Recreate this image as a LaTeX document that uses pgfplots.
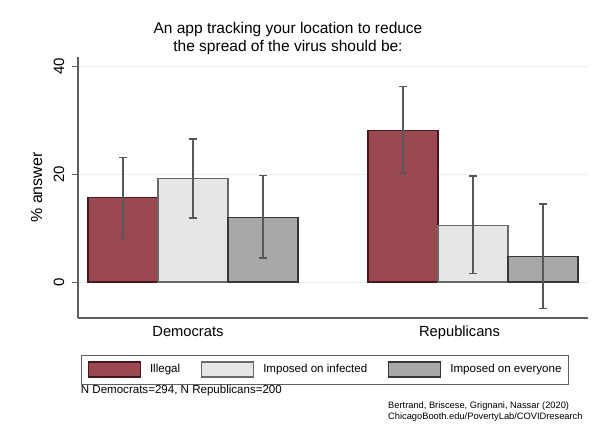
\documentclass[border=0pt]{standalone}
\usepackage{fontspec}
\setmainfont{Liberation Sans}
\usepackage{pgfplots}
\pgfplotsset{compat=1.18}

\definecolor{illegal}{RGB}{155,73,80}
\definecolor{illegaledge}{RGB}{70,25,30}
\definecolor{infected}{RGB}{230,230,230}
\definecolor{infectededge}{RGB}{105,105,105}
\definecolor{everyone}{RGB}{168,168,168}
\definecolor{everyoneedge}{RGB}{55,55,55}
\definecolor{errgray}{RGB}{88,88,88}
\definecolor{axgray}{RGB}{95,95,95}
\definecolor{gridc}{RGB}{232,240,242}

\pgfplotsset{
    errbars/.style={
        error bars/y dir=both,
        error bars/y explicit,
        error bars/error bar style={color=errgray, line width=1.6pt},
        error bars/error mark options={rotate=90, mark size=4pt, color=errgray, line width=1.6pt},
    },
}

\begin{document}
\begin{tikzpicture}[x=1pt,y=1pt]
\useasboundingbox (0,0) rectangle (604,440);

% title
\node[anchor=base, font=\fontsize{15.5}{18}\selectfont] at (288,406.7) {An app tracking your location to reduce};
\node[anchor=base, font=\fontsize{15.5}{18}\selectfont] at (288,388.9) {the spread of the virus should be:};

\begin{axis}[
    at={(78pt,122pt)}, anchor=south west,
    scale only axis, width=510pt, height=261pt,
    ybar, bar width=0.25,
    xmin=-0.4107, xmax=1.4107,
    ymin=-6.67, ymax=41.7,
    axis lines=left,
    axis line style={-, color=axgray, line width=1.1pt},
    xtick={-0.018,0.952},
    xticklabels={Democrats,Republicans},
    xtick style={draw=none},
    xticklabel style={font=\fontsize{14.7}{17}\selectfont, anchor=base, yshift=-12pt},
    ytick={0,20,40},
    ytick style={color=axgray, line width=1pt},
    tick align=outside,
    major tick length=6pt,
    yticklabel style={font=\fontsize{15}{18}\selectfont, rotate=90, anchor=south, inner sep=7.5pt},
    /pgf/number format/assume math mode=true,
    ylabel={\% answer},
    ylabel style={font=\fontsize{16}{19}\selectfont, at={(axis description cs:-0.081,0.5)}, anchor=center},
    ymajorgrids=true,
    grid style={color=gridc, line width=1pt},
    legend image code/.code={\draw[#1] (0pt,-7.5pt) rectangle (52pt,7.5pt);},
    legend columns=3,
    legend style={at={(axis description cs:0.4837,-0.1973)}, anchor=center,
        draw=axgray, line width=0.9pt, inner sep=6.5pt,
        font=\fontsize{11.55}{13}\selectfont,
        nodes={inner sep=0pt},
        /tikz/every odd column/.append style={column sep=9pt},
        /tikz/every even column/.append style={column sep=21pt}},
]

\addplot[fill=illegal, draw=illegaledge, line width=1.1pt, bar shift=-0.25, errbars]
    coordinates {
    (0,15.6) += (0,7.5) -= (0,7.5)
    (1,28.1) += (0,8.1) -= (0,7.85)
    };

\addplot[fill=infected, draw=infectededge, line width=1.1pt, bar shift=0, errbars]
    coordinates {
    (0,19.1) += (0,7.4) -= (0,7.25)
    (1,10.55) += (0,9.15) -= (0,8.95)
    };

\addplot[fill=everyone, draw=everyoneedge, line width=1.1pt, bar shift=0.25, errbars]
    coordinates {
    (0,12.0) += (0,7.75) -= (0,7.6)
    (1,4.7) += (0,9.8) -= (0,9.6)
    };

\legend{Illegal, Imposed on infected, Imposed on everyone}
\end{axis}

% notes
\node[anchor=base west, inner sep=0pt, font=\fontsize{11.55}{13}\selectfont] at (80.7,47) {N Democrats=294, N Republicans=200};
\node[anchor=base west, inner sep=0pt, font=\fontsize{9.3}{11}\selectfont] at (388,32) {Bertrand, Briscese, Grignani, Nassar (2020)};
\node[anchor=base west, inner sep=0pt, font=\fontsize{9.3}{11}\selectfont] at (388,20.5) {ChicagoBooth.edu/PovertyLab/COVIDresearch};
\end{tikzpicture}
\end{document}
